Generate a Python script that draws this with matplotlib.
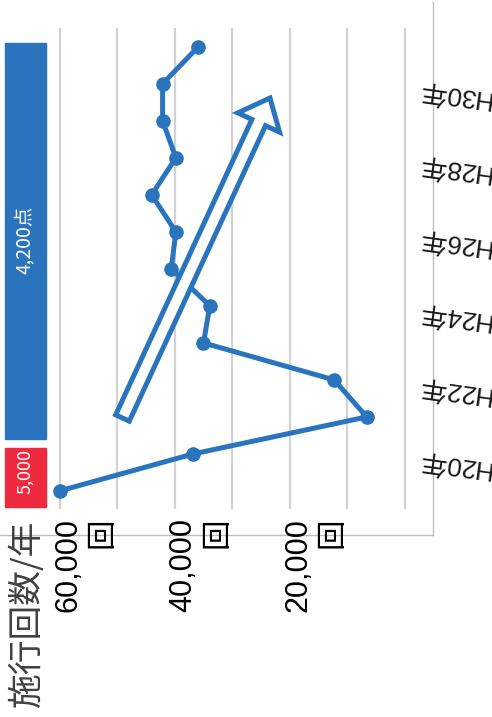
import matplotlib
matplotlib.use('Agg')
import matplotlib.pyplot as plt
from matplotlib.patches import FancyArrow, Rectangle
from matplotlib import transforms

# 施行回数/年 (H19〜H31)
year_num = [19, 20, 21, 22, 23, 24, 25, 26, 27, 28, 29, 30, 31]
counts = [60000, 36800, 6650, 12300, 35000, 33900, 40600,
          39800, 44000, 39800, 42100, 42100, 35900]
label_years = [20, 22, 24, 26, 28, 30]
value_ticks = [60000, 40000, 20000]
grid_values = [0, 10000, 20000, 30000, 40000, 50000, 60000]
band_labels = ['5,000', '4,200点']

blue = '#2A74BE'
red = '#EE2B3E'
jp = ['Liberation Sans', 'Noto Sans CJK JP']

fig = plt.figure(figsize=(4.92, 7.17), dpi=100)

# グラフ本体（横倒し）
ax = fig.add_axes([0, 182 / 717, 433 / 492, 533 / 717])
ax.set_xlim(70340, -4860)
ax.set_ylim(17.81, 32.21)
ax.vlines(grid_values, 18.5, 31.5, color='#d2d2d2', lw=1.6, zorder=0)
ax.plot(counts, year_num, '-o', color=blue, lw=3.6, ms=9.5, zorder=3)
ax.set_xticks([])
ax.set_yticks([])
for s in ['left', 'top']:
    ax.spines[s].set_visible(False)
for s in ['right', 'bottom']:
    ax.spines[s].set_color('#bdbdbd')
    ax.spines[s].set_linewidth(1)

# 目盛りラベル
tr_x = transforms.offset_copy(ax.get_xaxis_transform(), fig=fig, x=-6.5, y=0, units='dots')
for v in value_ticks:
    ax.text(v, 0.032, f'{v:,}\n回', rotation=90, ha='left', va='top',
            multialignment='right', transform=tr_x, fontsize=22,
            family=jp, color='black')

tr_y = transforms.offset_copy(
    transforms.blended_transform_factory(ax.transAxes, ax.transData),
    fig=fig, x=0, y=-10, units='dots')
for yr in label_years:
    ax.text(1.047, yr, f'H{yr}年', rotation=172, ha='center', va='center',
            transform=tr_y, fontsize=19, family=jp, color='#1a1a1a')

# 重ね描き用（ピクセル座標）
ov = fig.add_axes([0, 0, 1, 1])
ov.set_xlim(0, 492)
ov.set_ylim(717, 0)
ov.axis('off')

ov.text(10, 520, '施行回数/年', rotation=90, ha='left', va='top',
        fontsize=25, family=['Noto Sans CJK JP'], color='#404040')

ov.add_patch(Rectangle((5, 448), 41, 59, color=red))
ov.add_patch(Rectangle((5, 43), 41, 396, color=blue))
ov.text(25.5, 472, band_labels[0], rotation=90, ha='center', va='center',
        color='white', fontsize=13, family=['Noto Sans CJK JP'])
ov.text(25.5, 240, band_labels[1], rotation=90, ha='center', va='center',
        color='white', fontsize=14, family=['Noto Sans CJK JP'])

arrow = FancyArrow(122.5, 418, 147.5, -320, width=15, head_width=46,
                   head_length=27, length_includes_head=True,
                   fc='white', ec=blue, lw=3.6, joinstyle='miter')
ov.add_patch(arrow)

fig.savefig('out.png', dpi=100)
